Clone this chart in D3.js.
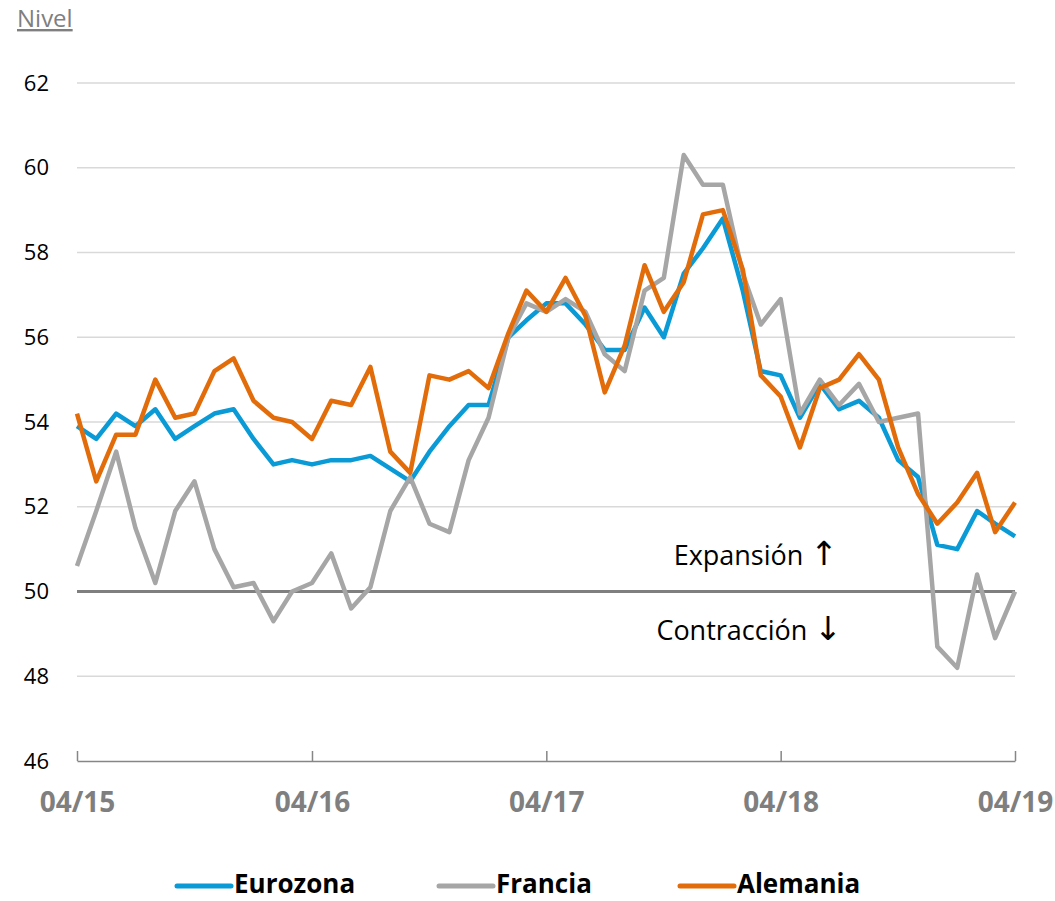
<!DOCTYPE html>
<html>
<head>
<meta charset="utf-8">
<script src="https://cdn.jsdelivr.net/npm/d3@7"></script>
<style>
  body { margin: 0; background: #fff; }
  svg { display: block; font-family: "Open Sans", "Noto Sans", sans-serif; }
</style>
</head>
<body>
<svg></svg>
<script>
// SVG
var width = 1055;
var height = 901;
var margin = {left: 77, right: 40, top: 83, bottom: 140};

// Data: monthly, 04/2015 .. 04/2019
var months = d3.timeMonth.range(new Date(2015, 3, 1), new Date(2019, 4, 1));
var tickLabels = ["04/15", "04/16", "04/17", "04/18", "04/19"];
var yTicks = [46, 48, 50, 52, 54, 56, 58, 60, 62];

var eurozona = [53.9, 53.6, 54.2, 53.9, 54.3, 53.6, 53.9, 54.2, 54.3, 53.6, 53.0, 53.1, 53.0,
  53.1, 53.1, 53.2, 52.9, 52.6, 53.3, 53.9, 54.4, 54.4, 56.0, 56.4, 56.8, 56.8, 56.3,
  55.7, 55.7, 56.7, 56.0, 57.5, 58.1, 58.8, 57.1, 55.2, 55.1, 54.1, 54.9, 54.3, 54.5,
  54.1, 53.1, 52.7, 51.1, 51.0, 51.9, 51.6, 51.3];
var francia = [50.6, 51.9, 53.3, 51.5, 50.2, 51.9, 52.6, 51.0, 50.1, 50.2, 49.3, 50.0, 50.2,
  50.9, 49.6, 50.1, 51.9, 52.7, 51.6, 51.4, 53.1, 54.1, 56.0, 56.8, 56.6, 56.9, 56.6,
  55.6, 55.2, 57.1, 57.4, 60.3, 59.6, 59.6, 57.5, 56.3, 56.9, 54.2, 55.0, 54.4, 54.9,
  54.0, 54.1, 54.2, 48.7, 48.2, 50.4, 48.9, 50.0];
var alemania = [54.2, 52.6, 53.7, 53.7, 55.0, 54.1, 54.2, 55.2, 55.5, 54.5, 54.1, 54.0, 53.6,
  54.5, 54.4, 55.3, 53.3, 52.8, 55.1, 55.0, 55.2, 54.8, 56.1, 57.1, 56.6, 57.4, 56.5,
  54.7, 55.8, 57.7, 56.6, 57.3, 58.9, 59.0, 57.6, 55.1, 54.6, 53.4, 54.8, 55.0, 55.6,
  55.0, 53.4, 52.3, 51.6, 52.1, 52.8, 51.4, 52.1];

var series = [
  {name: "Eurozona", values: eurozona, color: "#0a9ad6"},
  {name: "Francia", values: francia, color: "#a6a6a6"},
  {name: "Alemania", values: alemania, color: "#e36c0a"}
];

// Scales
var xScale = d3.scaleTime()
  .domain(d3.extent(months))
  .range([margin.left, width - margin.right]);

var yScale = d3.scaleLinear()
  .domain([46, 62])
  .range([761, 83]);

var svg = d3.select("svg")
  .attr("width", width)
  .attr("height", height);

// Gridlines
svg.append("g")
  .selectAll("line")
  .data(yTicks.filter(d => d !== 46 && d !== 50))
  .join("line")
  .attr("x1", xScale.range()[0])
  .attr("x2", xScale.range()[1])
  .attr("y1", d => yScale(d))
  .attr("y2", d => yScale(d))
  .attr("stroke", "#d9d9d9")
  .attr("stroke-width", 1.3);

// Y axis labels
var yAxis = d3.axisLeft(yScale)
  .tickValues(yTicks)
  .tickSize(0)
  .tickPadding(28)
  .tickFormat(d3.format("d"));

svg.append("g")
  .attr("transform", "translate(" + margin.left + ",0)")
  .call(yAxis)
  .call(g => g.select(".domain").remove())
  .selectAll("text")
  .attr("font-size", 22)
  .attr("font-family", "Open Sans")
  .attr("fill", "#000");

// X axis
var tickDates = months.filter(d => d.getMonth() === 3);
var xAxis = d3.axisBottom(xScale)
  .tickValues(tickDates)
  .tickSize(-10)
  .tickSizeOuter(0)
  .tickPadding(31)
  .tickFormat((d, i) => tickLabels[i]);

var gx = svg.append("g")
  .attr("transform", "translate(0," + yScale(46) + ")")
  .call(xAxis);
gx.select(".domain").attr("stroke", "#868686").attr("stroke-width", 1.5);
gx.selectAll(".tick line").attr("stroke", "#868686").attr("stroke-width", 1.5);
gx.selectAll("text")
  .attr("font-size", 28)
  .attr("font-weight", "bold")
  .attr("font-family", "Open Sans")
  .attr("fill", "#7f7f7f");

// 50 line
svg.append("line")
  .attr("x1", xScale.range()[0])
  .attr("x2", xScale.range()[1])
  .attr("y1", yScale(50))
  .attr("y2", yScale(50))
  .attr("stroke", "#7f7f7f")
  .attr("stroke-width", 3);

// Lines
var line = d3.line()
  .x((d, i) => xScale(months[i]))
  .y(d => yScale(d));

svg.append("g")
  .selectAll("path")
  .data(series)
  .join("path")
  .attr("fill", "none")
  .attr("stroke", d => d.color)
  .attr("stroke-width", 4.5)
  .attr("stroke-linejoin", "round")
  .attr("d", d => line(d.values));

// Annotations
var notes = [
  {label: "Expansión ", arrow: "\u2191", x: 838, y: 565},
  {label: "Contracción ", arrow: "\u2193", x: 842, y: 640}
];
var note = svg.append("g")
  .selectAll("text")
  .data(notes)
  .join("text")
  .attr("x", d => d.x)
  .attr("y", d => d.y)
  .attr("text-anchor", "end")
  .attr("font-size", 27)
  .attr("fill", "#000");
note.append("tspan").text(d => d.label);
note.append("tspan")
  .attr("font-family", "DejaVu Sans")
  .attr("font-size", 33)
  .text(d => d.arrow);

// Title
svg.append("text")
  .attr("x", 17)
  .attr("y", 27)
  .attr("font-size", 24)
  .attr("fill", "#7f7f7f")
  .attr("text-decoration", "underline")
  .text("Nivel");

// Legend
var legendX = [175, 437, 678];
var legend = svg.append("g")
  .selectAll("g")
  .data(series)
  .join("g")
  .attr("transform", (d, i) => "translate(" + legendX[i] + ",886)");

legend.append("line")
  .attr("x1", 2)
  .attr("x2", 56)
  .attr("stroke", d => d.color)
  .attr("stroke-width", 5)
  .attr("stroke-linecap", "round");

legend.append("text")
  .attr("x", 59)
  .attr("y", 7)
  .attr("font-size", 26)
  .attr("font-weight", "bold")
  .attr("fill", "#000")
  .text(d => d.name);
</script>
</body>
</html>
